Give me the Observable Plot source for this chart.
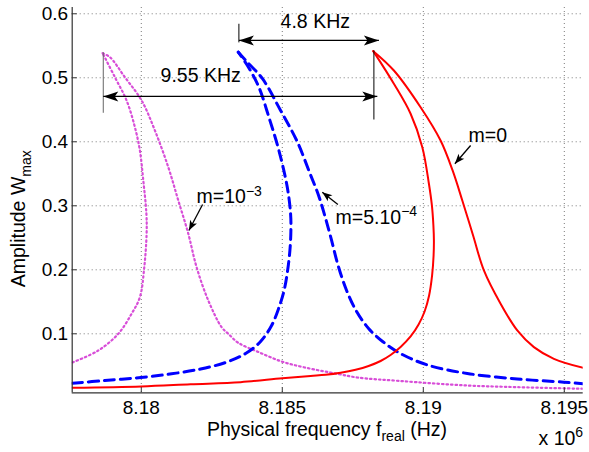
<!DOCTYPE html>
<html>
<head>
<meta charset="utf-8">
<script src="https://cdn.jsdelivr.net/npm/d3@7"></script>
<script src="https://cdn.jsdelivr.net/npm/@observablehq/plot@0.6"></script>
<style>
  html, body { margin: 0; padding: 0; background: #fff; }
</style>
</head>
<body>
<div id="chart"></div>
<script>
// ---------- data (frequency in units of 10^6 Hz, amplitude W_max) ----------
const xTicks = [8.18, 8.185, 8.19, 8.195];
const yTicks = [0.1, 0.2, 0.3, 0.4, 0.5, 0.6];

// m = 0 (red, solid): lower/inner branch up to the peak, then the outer branch down
const redLowF = [8.17756, 8.18000, 8.181748, 8.183521, 8.185000, 8.186004, 8.186535, 8.187067, 8.187599, 8.188060,
  8.188486, 8.188840, 8.189195, 8.189550, 8.189833, 8.190046, 8.190206, 8.190312, 8.190365, 8.190376,
  8.190358, 8.190305, 8.190199, 8.189965, 8.189550, 8.188957, 8.188227];
const redLowA = [0.0156, 0.0177, 0.0211, 0.0244, 0.0306, 0.0341, 0.0359, 0.0391, 0.0438, 0.0497,
  0.0575, 0.0669, 0.0794, 0.0958, 0.1145, 0.1348, 0.1598, 0.1911, 0.2223, 0.2458,
  0.2692, 0.3005, 0.3344, 0.3916, 0.4438, 0.4906, 0.5416];
const redUpF = [8.188227, 8.188957, 8.189904, 8.190613, 8.191039, 8.191383, 8.191766, 8.192149, 8.192741,
  8.193333, 8.193922, 8.194631, 8.195674];
const redUpA = [0.5416, 0.5114, 0.4540, 0.4020, 0.3552, 0.3083, 0.2536, 0.1990, 0.1469,
  0.1052, 0.0791, 0.0609, 0.0467];

// m = 5.10^-4 (blue, dashed)
const blueLowF = [8.17756, 8.178709, 8.179986, 8.181074, 8.182103, 8.182989, 8.183699, 8.184230, 8.184621, 8.184869,
  8.185064, 8.185188, 8.185270, 8.185305, 8.185294, 8.185177, 8.184880, 8.184525, 8.184170, 8.183805, 8.183440];
const blueLowA = [0.0228, 0.0270, 0.0317, 0.0375, 0.0450, 0.0552, 0.0692, 0.0880, 0.1130, 0.1395,
  0.1677, 0.1989, 0.2302, 0.2614, 0.2875, 0.3290, 0.3864, 0.4384, 0.4853, 0.5161, 0.5400];
const blueUpF = [8.183440, 8.183770, 8.184291, 8.184940, 8.185532, 8.185968, 8.186287, 8.186535, 8.186748, 8.186979,
  8.187280, 8.187635, 8.188060, 8.188557, 8.189124, 8.190142, 8.191560, 8.193333, 8.194986, 8.195674];
const blueUpA = [0.5400, 0.5239, 0.4989, 0.4489, 0.4000, 0.3520, 0.3161, 0.2802, 0.2458, 0.2067,
  0.1677, 0.1348, 0.1083, 0.0880, 0.0708, 0.0513, 0.0380, 0.0294, 0.0244, 0.0219];

// m = 10^-3 (magenta, dotted)
const magLowF = [8.17756, 8.178475, 8.179184, 8.179656, 8.179950, 8.180106, 8.180188, 8.180181, 8.180071, 8.179950,
  8.179773, 8.179479, 8.179064, 8.178628];
const magLowA = [0.0552, 0.0739, 0.1000, 0.1313, 0.1572, 0.2041, 0.2563, 0.2875, 0.3395, 0.3864,
  0.4228, 0.4645, 0.5009, 0.5384];
const magUpF = [8.178628, 8.178887, 8.179418, 8.180011, 8.180482, 8.180957, 8.181312, 8.181667, 8.181961, 8.182376,
  8.182848, 8.183085, 8.183440, 8.184149, 8.184975, 8.185801, 8.186986, 8.187660, 8.189170, 8.191560, 8.193333, 8.195674];
const magUpA = [0.5384, 0.5322, 0.5009, 0.4645, 0.4177, 0.3603, 0.3083, 0.2563, 0.2041, 0.1520,
  0.1103, 0.1000, 0.0859, 0.0716, 0.0567, 0.0473, 0.0372, 0.0317, 0.0263, 0.0192, 0.0166, 0.0141];

// annotations
const annLines = [
  {f: 8.178652, a1: 0.4453, a2: 0.5400, c: "#666"},
  {f: 8.188248, a1: 0.4348, a2: 0.5427, c: "#000"},
  {f: 8.183461, a1: 0.5553, a2: 0.5844, c: "#000"}
];
const annArrows = [
  {x1: 8.178652, y1: 0.4708, x2: 8.188369, y2: 0.4708, both: true, big: true},
  {x1: 8.183461, y1: 0.5583, x2: 8.188426, y2: 0.5583, both: true, big: true},
  {x1: 8.191677, y1: 0.3942, x2: 8.191120, y2: 0.3656, both: false, big: false},
  {x1: 8.186972, y1: 0.3020, x2: 8.186418, y2: 0.3213, both: false, big: false},
  {x1: 8.182174, y1: 0.3020, x2: 8.181688, y2: 0.2614, both: false, big: false}
];
const annTexts = [
  {t: "4.8 KHz", f: 8.18494, a: 0.5780},
  {t: "9.55 KHz", f: 8.180684, a: 0.4931},
  {t: "m=0", f: 8.191606, a: 0.3994},
  {t: "m=5.10^{\u22124}", f: 8.18689, a: 0.2719},
  {t: "m=10^{\u22123}", f: 8.181961, a: 0.3041}
];

// ---------- layout ----------
const W = 589, H = 452;
const mL = 71.7, mR = 6.3, mT = 7, mB = 59.7;
const xDomain = [8.17755, 8.19567];
const yDomain = [0.0078, 0.6098];
const frameW = W - mL - mR, frameH = H - mT - mB;
const FS = 19.5;

function branch(F, A, s, b) { return F.map((f, i) => ({f, a: A[i], s, b: s + b})); }
const series = [
  ...branch(redLowF, redLowA, "m0", "low"), ...branch(redUpF, redUpA, "m0", "up"),
  ...branch(blueLowF, blueLowA, "m5", "low"), ...branch(blueUpF, blueUpA, "m5", "up"),
  ...branch(magLowF, magLowA, "m10", "low"), ...branch(magUpF, magUpA, "m10", "up")
];

// screen-space helpers for arrowhead orientation (mirror of Plot's scales)
const xs = d3.scaleLinear(xDomain, [mL, W - mR]);
const ys = d3.scaleLinear(yDomain, [H - mB, mT]);
function angle(xa, ya, xb, yb) {
  const dx = xs(xb) - xs(xa), dy = ys(yb) - ys(ya);
  return Math.atan2(dx, -dy) * 180 / Math.PI;
}
const heads = [];
for (const a of annArrows) {
  heads.push({x: a.x2, y: a.y2, rot: angle(a.x1, a.y1, a.x2, a.y2), big: a.big});
  if (a.both) heads.push({x: a.x1, y: a.y1, rot: angle(a.x2, a.y2, a.x1, a.y1), big: a.big});
}
function stealth(L, w, n) {
  return {draw(ctx) {
    ctx.moveTo(0, 0); ctx.lineTo(-w, L); ctx.lineTo(0, L - n); ctx.lineTo(w, L); ctx.closePath();
  }};
}

const grid = {stroke: "#7a7a7a", strokeOpacity: 1, strokeWidth: 1, strokeDasharray: "1,3"};
const smooth = "catmull-rom";

const chart = Plot.plot({
  width: W, height: H,
  marginLeft: mL, marginRight: mR, marginTop: mT, marginBottom: mB,
  style: {fontFamily: "'Liberation Sans', Arial, Helvetica, sans-serif", fontSize: "19px", background: "#fff", color: "#000", overflow: "visible"},
  x: {domain: xDomain, ticks: xTicks, tickFormat: d => String(+d.toFixed(3)), tickSize: 0, tickPadding: 8, label: null},
  y: {domain: yDomain, ticks: yTicks, tickFormat: d => String(+d.toFixed(1)), tickSize: 0, tickPadding: 4, label: null},
  marks: [
    Plot.ruleX(xTicks, grid),
    Plot.ruleY(yTicks, grid),
    Plot.line(series.filter(d => d.s === "m10"), {x: "f", y: "a", z: "b", curve: smooth, stroke: "#d84ed8", strokeWidth: 2.2, strokeDasharray: "1.5,3", clip: true}),
    Plot.line(series.filter(d => d.s === "m5"), {x: "f", y: "a", z: "b", curve: smooth, stroke: "#0000ff", strokeWidth: 3, strokeDasharray: "10,6", clip: true}),
    Plot.line(series.filter(d => d.s === "m0"), {x: "f", y: "a", z: "b", curve: smooth, stroke: "#ff0000", strokeWidth: 2, clip: true}),
    // inward ticks
    Plot.tickY(yTicks, {y: d => d, stroke: "#333", insetRight: frameW - 5}),
    Plot.tickX(xTicks, {x: d => d, stroke: "#333", insetTop: frameH - 5}),
    // axis lines
    Plot.ruleX([xDomain[0]], {stroke: "#333", strokeWidth: 1.2}),
    Plot.ruleY([yDomain[0]], {stroke: "#333", strokeWidth: 1.2}),
    // annotations
    Plot.link(annLines, {x1: "f", x2: "f", y1: "a1", y2: "a2", stroke: d => d.c}),
    Plot.link(annArrows, {x1: "x1", y1: "y1", x2: "x2", y2: "y2", stroke: "#000", strokeWidth: 1.3}),
    Plot.dot(heads.filter(d => d.big), {x: "x", y: "y", rotate: "rot", symbol: stealth(15, 5, 3.5), fill: "#000", stroke: "none"}),
    Plot.dot(heads.filter(d => !d.big), {x: "x", y: "y", rotate: "rot", symbol: stealth(10, 3.8, 2.5), fill: "#000", stroke: "none"}),
    Plot.text(annTexts, {x: "f", y: "a", text: "t", textAnchor: "start", lineAnchor: "bottom", fill: "#000", fontSize: FS}),
    // axis titles
    Plot.text(["Amplitude W_{max}"], {text: d => d, frameAnchor: "left", rotate: -90, textAnchor: "middle", lineAnchor: "bottom", dx: -46.7, dy: 18.6, fill: "#000", fontSize: FS}),
    Plot.text(["Physical frequency f_{real} (Hz)"], {text: d => d, frameAnchor: "bottom", textAnchor: "middle", lineAnchor: "bottom", dx: -0.7, dy: 43, fill: "#000", fontSize: FS}),
    Plot.text(["x 10^{6}"], {text: d => d, frameAnchor: "bottom-right", textAnchor: "start", lineAnchor: "bottom", dx: -44.7, dy: 51.7, fill: "#000", fontSize: FS})
  ]
});

// rich text: ^{...} superscript, _{...} subscript
function richify(svg) {
  svg.querySelectorAll("text").forEach(t => {
    const s = t.textContent;
    if (!/[\^_]\{/.test(s)) return;
    const parts = []; const re = /([\^_])\{([^}]*)\}/g; let last = 0, m;
    while ((m = re.exec(s))) {
      if (m.index > last) parts.push({t: s.slice(last, m.index), k: ""});
      parts.push({t: m[2], k: m[1]}); last = re.lastIndex;
    }
    if (last < s.length) parts.push({t: s.slice(last), k: ""});
    while (t.firstChild) t.removeChild(t.firstChild);
    let shift = 0;
    for (const p of parts) {
      const ts = document.createElementNS("http://www.w3.org/2000/svg", "tspan");
      const target = p.k === "^" ? -7.5 : p.k === "_" ? 5.5 : 0;
      ts.setAttribute("dy", target - shift); shift = target;
      if (p.k) ts.setAttribute("font-size", "14px");
      ts.textContent = p.t;
      t.appendChild(ts);
    }
  });
}
richify(chart);
document.getElementById("chart").appendChild(chart);
</script>
</body>
</html>
